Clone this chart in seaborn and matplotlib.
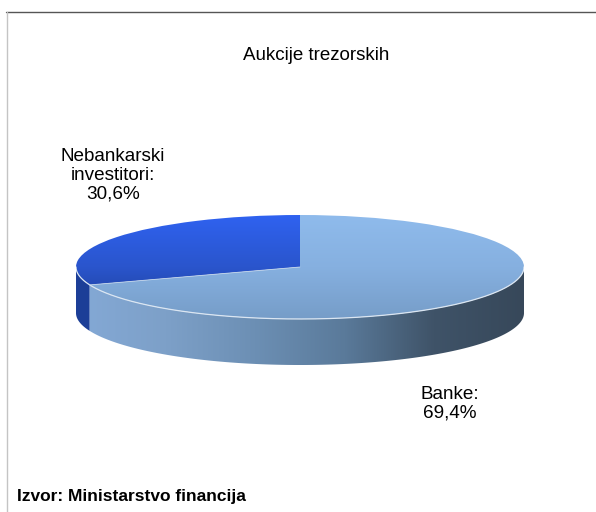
import numpy as np
import seaborn as sns
import matplotlib.pyplot as plt
from matplotlib.lines import Line2D

kategorije = ['Nebankarski\ninvestitori', 'Banke']
udjeli = [30.6, 69.4]
naslov = 'Aukcije trezorskih'
izvor = 'Izvor: Ministarstvo financija'

W, H = 596, 512

sns.set_theme(style='white')
plt.rcParams['font.family'] = ['Liberation Sans', 'DejaVu Sans']


def px_x(x):
    return x / W


def px_y(y):
    return 1 - y / H


fig = plt.figure(figsize=(W / 100, H / 100), dpi=100, facecolor='white')

# okvir: gore tamna linija, lijevo svijetla
fig.add_artist(Line2D([px_x(6), 1], [px_y(11.5), px_y(11.5)], color='#555555', lw=1))
fig.add_artist(Line2D([px_x(6.5), px_x(6.5)], [px_y(11.5), 0], color='#c4c4c4', lw=1))

# elipsa: x 76-524, y 215-319, visina ruba 46 px
ax = fig.add_axes([px_x(76), px_y(365), 448 / W, 150 / H])
visina = 46 / 52

wedges, _ = ax.pie(udjeli, startangle=90, radius=1, counterclock=True,
                   wedgeprops=dict(facecolor='none', edgecolor='none'))
ax.set_aspect('auto')
ax.axis('off')

gradijent = np.linspace(0, 1, 256)
vrh_plavi = sns.blend_palette(['#2f62f0', '#2a55cc', '#1c3a8e'], as_cmap=True)
vrh_svijetli = sns.blend_palette(['#8fbbec', '#86b0e0', '#769dc8'], as_cmap=True)
rub_plavi = sns.blend_palette(['#1d3f98', '#1a3a8c'], as_cmap=True)
rub_svijetli = sns.blend_palette(['#84a9d6', '#7da0c8', '#6c8fb4', '#5a7a9a', '#3f5368', '#37485a'], as_cmap=True)

# gornja ploha
for w, cmap in zip(wedges, [vrh_plavi, vrh_svijetli]):
    im = ax.imshow(gradijent[:, None], cmap=cmap, extent=(-1, 1, -1, 1),
                   origin='upper', aspect='auto', zorder=2)
    im.set_clip_path(w)

# bocni rub, kutovi dolaze iz isjecaka
granica = wedges[0].theta2
dijelovi = [(180, granica, rub_plavi), (granica, 360, rub_svijetli)]
for t1, t2, cmap in dijelovi:
    t = np.radians(np.linspace(t1, t2, 200))
    poly = ax.fill_between(np.cos(t), np.sin(t), np.sin(t) - visina,
                           facecolor='none', edgecolor='none', zorder=1)
    im = ax.imshow(gradijent[None, :], cmap=cmap, extent=(-1, 1, -1 - visina, 1),
                   aspect='auto', zorder=1)
    im.set_clip_path(poly.get_paths()[0], transform=ax.transData)

ax.set_xlim(-1, 1)
ax.set_ylim(-1 - visina, 1)

# svijetle linije na spoju ploha
t = np.radians(np.linspace(180, 360, 300))
ax.plot(np.cos(t), np.sin(t), color='#dbe6f2', lw=0.9, zorder=3)
tg = np.radians(granica)
ax.plot([0, np.cos(tg)], [0, np.sin(tg)], color='#c3d5ea', lw=0.6, zorder=3)

# tekstovi
oznake = [f"{k}:\n{str(u).replace('.', ',')}%" for k, u in zip(kategorije, udjeli)]
fig.text(px_x(316), px_y(55.5), naslov, ha='center', va='center', fontsize=13.5,
         color='black')
fig.text(px_x(113), px_y(175), oznake[0], ha='center', va='center', fontsize=13.6,
         color='black', linespacing=1.15)
fig.text(px_x(450), px_y(403.5), oznake[1], ha='center', va='center', fontsize=13.6,
         color='black', linespacing=1.15)
fig.text(px_x(17), px_y(497), izvor, ha='left', va='center', fontsize=12.5,
         fontweight='bold', color='black')

fig.savefig('out.png', dpi=100)
